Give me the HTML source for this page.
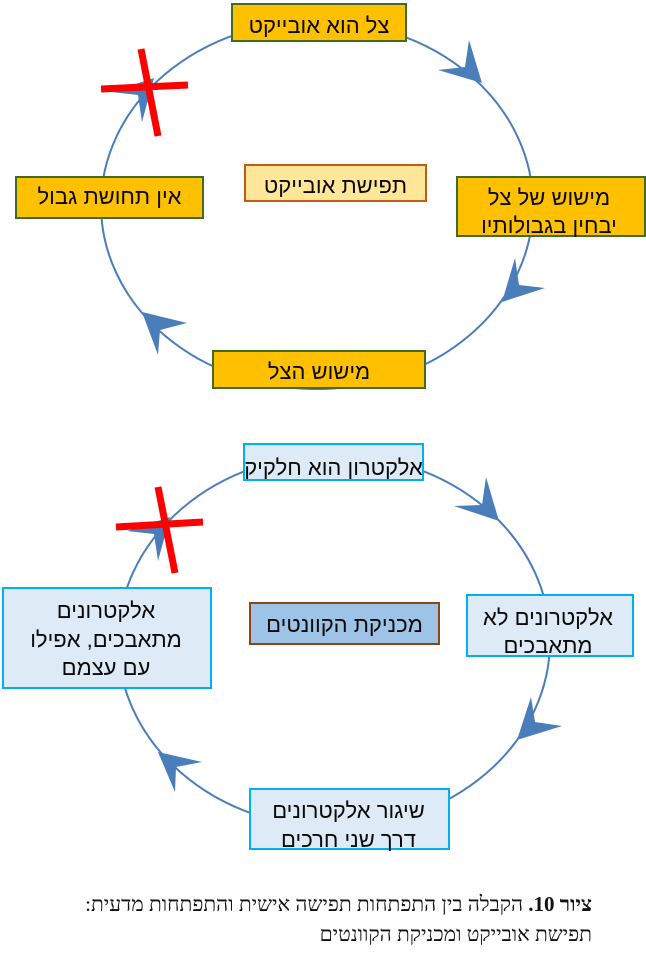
<!DOCTYPE html>
<html lang="he">
<head>
<meta charset="utf-8">
<style>
  html, body { margin:0; padding:0; background:#ffffff; }
  #wrap { position:relative; width:646px; height:960px; overflow:hidden; background:#fff; }
  svg { position:absolute; left:0; top:0; }
  .box { position:absolute; box-sizing:border-box; border:2px solid #3E6B25; }
  .gold { background:#FFC000; border-color:#3E6B25; }
  .pale { background:#FFE699; border-color:#C55A11; }
  .lb { background:#DEEBF7; border-color:#00B0F0; }
  .mb { background:#9DC3E6; border-color:#8E4510; }
  .t { position:absolute; text-align:center; white-space:nowrap; direction:rtl;
       font-family:"Liberation Sans","DejaVu Sans",sans-serif; font-size:22px;
       line-height:28px; height:28px; color:#0a0a0a; }
  .cap { position:absolute; right:54px; direction:rtl; text-align:right; white-space:nowrap;
         font-family:"Liberation Serif","DejaVu Serif","DejaVu Sans",serif; font-size:21px;
         line-height:30px; color:#111; }
</style>
</head>
<body>
<div id="wrap">
<svg width="646" height="960" viewBox="0 0 646 960" xmlns="http://www.w3.org/2000/svg">
  <ellipse cx="317" cy="205" rx="216" ry="184" fill="none" stroke="#4A7EBB" stroke-width="2"/>
  <ellipse cx="334" cy="641" rx="216" ry="186.5" fill="none" stroke="#4A7EBB" stroke-width="2"/>
  <g fill="#4A7EBB">
    <polygon points="482,83 469,40 465,67 438,70"/>
    <polygon points="502,302 515,258 519,285 545,288"/>
    <polygon points="142,312 187,323 160,330 158,355"/>
    <polygon points="154,78 142,122 138,95 111,92"/>
    <polygon points="499,521 486,477 482,505 454,506"/>
    <polygon points="517,740 531,697 535,722 562,726"/>
    <polygon points="158,752 202,762 176,767 175,792"/>
    <polygon points="170,517 158,561 154,534 127,531"/>
  </g>
  <g stroke="#FF0000" stroke-width="7" stroke-linecap="butt">
    <line x1="141" y1="49" x2="158" y2="136"/>
    <line x1="101" y1="89" x2="188" y2="85"/>
    <line x1="158" y1="487" x2="175" y2="573"/>
    <line x1="116" y1="527" x2="203" y2="522"/>
  </g>
</svg>

<div class="box gold" style="left:231px;top:3px;width:176px;height:39px;"></div>
<div class="box pale" style="left:244px;top:164px;width:183px;height:38px;"></div>
<div class="box gold" style="left:15px;top:176px;width:189px;height:43px;"></div>
<div class="box gold" style="left:456px;top:176px;width:190px;height:61px;"></div>
<div class="box gold" style="left:212px;top:350px;width:214px;height:39px;"></div>

<div class="box lb" style="left:243px;top:443px;width:181px;height:38px;"></div>
<div class="box mb" style="left:249px;top:602px;width:191px;height:43px;"></div>
<div class="box lb" style="left:466px;top:594px;width:168px;height:63px;"></div>
<div class="box lb" style="left:2px;top:587px;width:210px;height:102px;"></div>
<div class="box lb" style="left:249px;top:788px;width:201px;height:62px;"></div>

<div class="t" style="left:231px;width:176px;top:12px;">צל הוא אובייקט</div>
<div class="t" style="left:244px;width:183px;top:172px;">תפישת אובייקט</div>
<div class="t" style="left:15px;width:189px;top:183px;">אין תחושת גבול</div>
<div class="t" style="left:454px;width:190px;top:184px;">מישוש של צל</div>
<div class="t" style="left:454px;width:190px;top:212px;">יבחין בגבולותיו</div>
<div class="t" style="left:212px;width:214px;top:358px;">מישוש הצל</div>

<div class="t" style="left:243px;width:181px;top:454px;">אלקטרון הוא חלקיק</div>
<div class="t" style="left:249px;width:191px;top:611px;">מכניקת הקוונטים</div>
<div class="t" style="left:464px;width:168px;top:604px;">אלקטרונים לא</div>
<div class="t" style="left:464px;width:168px;top:632px;">מתאבכים</div>
<div class="t" style="left:2px;width:208px;top:597px;">אלקטרונים</div>
<div class="t" style="left:2px;width:208px;top:626px;">מתאבכים, אפילו</div>
<div class="t" style="left:2px;width:208px;top:654px;">עם עצמם</div>
<div class="t" style="left:249px;width:199px;top:797px;">שיגור אלקטרונים</div>
<div class="t" style="left:249px;width:199px;top:826px;">דרך שני חרכים</div>

<div class="cap" style="top:889px;"><b>ציור 10.</b> הקבלה בין התפתחות תפישה אישית והתפתחות מדעית:</div>
<div class="cap" style="top:919px;">תפישת אובייקט ומכניקת הקוונטים</div>
</div>
</body>
</html>
